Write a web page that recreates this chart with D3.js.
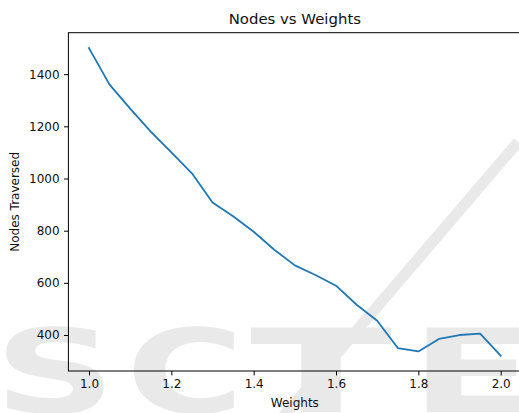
<!DOCTYPE html>
<html>
<head>
<meta charset="utf-8">
<script src="https://cdn.jsdelivr.net/npm/d3@7"></script>
<style>
  html, body { margin: 0; padding: 0; background: #fff; }
  svg { display: block; }
  text { font-family: "DejaVu Sans", sans-serif; }
</style>
</head>
<body>
<div id="chart"></div>
<script>
// Weight settings and the number of nodes traversed at each one
const weights = [1.00, 1.05, 1.10, 1.15, 1.20, 1.25, 1.30, 1.35, 1.40, 1.45, 1.50,
                 1.55, 1.60, 1.65, 1.70, 1.75, 1.80, 1.85, 1.90, 1.95, 2.00];
const nodesTraversed = [1500, 1360, 1268, 1180, 1100, 1020, 908, 855, 796, 727, 667,
                        630, 589, 516, 455, 350, 337, 385, 400, 405, 321];
const xTicks = [1.0, 1.2, 1.4, 1.6, 1.8, 2.0];
const yTicks = [400, 600, 800, 1000, 1200, 1400];

const W = 519, H = 413;
const plot = { left: 68.4, right: 521.3, top: 32.7, bottom: 371 };

const svg = d3.select("#chart").append("svg")
  .attr("width", W).attr("height", H);

// Faint background lettering
const wm = svg.append("g").attr("fill", "#e9e9e9");
wm.append("line")
  .attr("x1", 518).attr("y1", 142).attr("x2", 282).attr("y2", 418)
  .attr("stroke", "#e9e9e9").attr("stroke-width", 11);
[["S", -6, 122], ["C", 126, 118], ["T", 250, 142], ["E", 410, 125]].forEach(([ch, x, w]) => {
  wm.append("text")
    .attr("x", x).attr("y", 412)
    .attr("font-size", 115).attr("font-weight", "bold")
    .attr("textLength", w).attr("lengthAdjust", "spacingAndGlyphs")
    .text(ch);
});

// Scales with matplotlib-style 5% padding around the data
const xPad = (d3.max(weights) - d3.min(weights)) * 0.05;
const yPad = (d3.max(nodesTraversed) - d3.min(nodesTraversed)) * 0.05;
const x = d3.scaleLinear()
  .domain([d3.min(weights) - xPad, d3.max(weights) + xPad])
  .range([plot.left, plot.right]);
const y = d3.scaleLinear()
  .domain([d3.min(nodesTraversed) - yPad, d3.max(nodesTraversed) + yPad])
  .range([plot.bottom, plot.top]);

// Data line
svg.append("path")
  .datum(weights.map((w, i) => [w, nodesTraversed[i]]))
  .attr("fill", "none")
  .attr("stroke", "#1f77b4")
  .attr("stroke-width", 1.8)
  .attr("stroke-linejoin", "round")
  .attr("stroke-linecap", "square")
  .attr("d", d3.line().x(d => x(d[0])).y(d => y(d[1])));

// Frame
svg.append("rect")
  .attr("x", plot.left).attr("y", plot.top)
  .attr("width", plot.right - plot.left).attr("height", plot.bottom - plot.top)
  .attr("fill", "none").attr("stroke", "#000").attr("stroke-width", 1);

// Axes
const tickColor = "#111";
const xAxis = svg.append("g")
  .attr("transform", `translate(0,${plot.bottom})`)
  .call(d3.axisBottom(x).tickValues(xTicks).tickFormat(d3.format(".1f"))
    .tickSizeInner(4.4).tickSizeOuter(0).tickPadding(4.4));
const yAxis = svg.append("g")
  .attr("transform", `translate(${plot.left},0)`)
  .call(d3.axisLeft(y).tickValues(yTicks).tickFormat(d3.format("d"))
    .tickSizeInner(4.4).tickSizeOuter(0).tickPadding(4.4));
[xAxis, yAxis].forEach(a => {
  a.select(".domain").remove();
  a.selectAll(".tick line").attr("stroke", "#000").attr("stroke-width", 1);
  a.selectAll(".tick text")
    .attr("fill", tickColor)
    .attr("font-size", 12)
    .attr("font-family", "DejaVu Sans, sans-serif");
});

// Title and axis labels
svg.append("text")
  .attr("x", (plot.left + plot.right) / 2).attr("y", 24)
  .attr("text-anchor", "middle").attr("font-size", 14.9).attr("fill", tickColor)
  .text("Nodes vs Weights");
svg.append("text")
  .attr("x", (plot.left + plot.right) / 2).attr("y", 407)
  .attr("text-anchor", "middle").attr("font-size", 12).attr("fill", tickColor)
  .text("Weights");
svg.append("text")
  .attr("transform", `translate(18.7,${(plot.top + plot.bottom) / 2}) rotate(-90)`)
  .attr("text-anchor", "middle").attr("font-size", 12).attr("fill", tickColor)
  .text("Nodes Traversed");
</script>
</body>
</html>
